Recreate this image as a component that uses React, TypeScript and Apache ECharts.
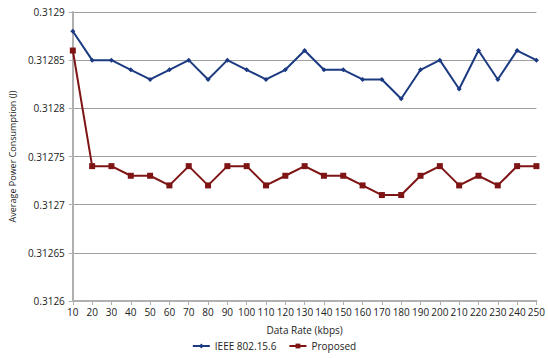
import React, { useEffect, useRef } from "react";
import * as echarts from "echarts";

const categories = ["10","20","30","40","50","60","70","80","90","100","110","120","130","140","150","160","170","180","190","200","210","220","230","240","250"];
const ieee = [0.31288,0.31285,0.31285,0.31284,0.31283,0.31284,0.31285,0.31283,0.31285,0.31284,0.31283,0.31284,0.31286,0.31284,0.31284,0.31283,0.31283,0.31281,0.31284,0.31285,0.31282,0.31286,0.31283,0.31286,0.31285];
const proposed = [0.31286,0.31274,0.31274,0.31273,0.31273,0.31272,0.31274,0.31272,0.31274,0.31274,0.31272,0.31273,0.31274,0.31273,0.31273,0.31272,0.31271,0.31271,0.31273,0.31274,0.31272,0.31273,0.31272,0.31274,0.31274];
const yTicks = ["0.3126","0.31265","0.3127","0.31275","0.3128","0.31285","0.3129"];

const FONT = "Open Sans";

export default function App() {
  const ref = useRef<HTMLDivElement>(null);
  useEffect(() => {
    if (!ref.current) return;
    const chart = echarts.init(ref.current, null, { renderer: "svg" });
    chart.setOption({
      animation: false,
      textStyle: { fontFamily: FONT },
      grid: { left: 66, right: 8, top: 12, bottom: 57 },
      legend: {
        bottom: 2,
        left: "center",
        itemWidth: 17,
        itemHeight: 6,
        itemGap: 12,
        textStyle: { fontFamily: FONT, fontSize: 10, color: "#222" },
        data: ["IEEE 802.15.6", "Proposed"],
      },
      xAxis: {
        type: "category",
        data: categories,
        boundaryGap: false,
        name: "Data Rate (kbps)",
        nameLocation: "middle",
        nameGap: 24,
        nameTextStyle: { fontFamily: FONT, fontSize: 10, color: "#222" },
        axisLine: { lineStyle: { color: "#b0b0b0", width: 2 } },
        axisTick: { show: true, alignWithLabel: true, length: 4, lineStyle: { color: "#b0b0b0" } },
        axisLabel: { fontFamily: FONT, fontSize: 10, color: "#222", margin: 6, interval: 0 },
        splitLine: { show: false },
      },
      yAxis: {
        type: "value",
        min: 0.3126,
        max: 0.3129,
        interval: 0.00005,
        name: "Average Power Consumption (J)",
        nameLocation: "middle",
        nameGap: 50,
        nameTextStyle: { fontFamily: FONT, fontSize: 9, color: "#222" },
        axisLine: { show: true, lineStyle: { color: "#b0b0b0", width: 2 } },
        axisTick: { show: true, length: 4, lineStyle: { color: "#b0b0b0" } },
        axisLabel: {
          fontFamily: FONT,
          fontSize: 10,
          color: "#222",
          margin: 8,
          formatter: (v: number) => {
            const idx = Math.round((v - 0.3126) / 0.00005);
            return yTicks[idx] ?? "";
          },
        },
        splitLine: { lineStyle: { color: "#a0a0a0", width: 1 } },
      },
      series: [
        {
          name: "IEEE 802.15.6",
          type: "line",
          data: ieee,
          symbol: "diamond",
          symbolSize: 5,
          lineStyle: { color: "#1c3a82", width: 2 },
          itemStyle: { color: "#1c3a82" },
        },
        {
          name: "Proposed",
          type: "line",
          data: proposed,
          symbol: "rect",
          symbolSize: 6,
          lineStyle: { color: "#7f1414", width: 2 },
          itemStyle: { color: "#7f1414" },
        },
      ],
    });
    return () => chart.dispose();
  }, []);
  return <div ref={ref} style={{ width: 548, height: 358, position: "absolute", left: 0, top: 0, background: "#fff" }} />;
}
